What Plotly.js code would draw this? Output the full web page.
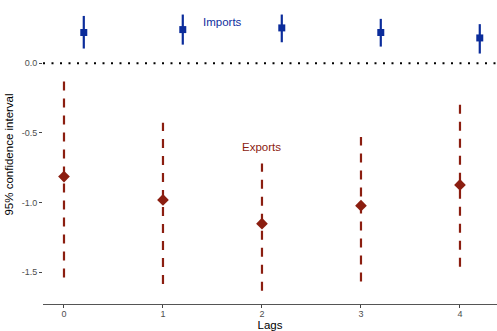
<!DOCTYPE html>
<html>
<head>
<meta charset="utf-8">
<script src="https://cdn.plot.ly/plotly-3.0.1.min.js"></script>
<style>html,body{margin:0;padding:0;background:#fff;}#chart{width:497px;height:331px;}</style>
</head>
<body>
<div id="chart"></div>
<script>
var lags = [0, 1, 2, 3, 4];
var importsEst = [0.221, 0.242, 0.254, 0.221, 0.182];
var importsLo  = [0.106, 0.134, 0.151, 0.120, 0.070];
var importsHi  = [0.340, 0.350, 0.350, 0.319, 0.281];
var exportsEst = [-0.813, -0.981, -1.151, -1.022, -0.873];
var exportsLo  = [-1.537, -1.585, -1.633, -1.566, -1.460];
var exportsHi  = [-0.129, -0.427, -0.720, -0.530, -0.295];
var yTicks = [0, -0.5, -1, -1.5];
var yTickText = ['0.0', '-0.5', '-1.0', '-1.5'];
var importOffset = 0.2;

var blue = '#0B2C9B';
var red = '#8B1E10';

function segs(xs, lo, hi, off) {
  var x = [], y = [];
  for (var i = 0; i < xs.length; i++) {
    x.push(xs[i] + off, xs[i] + off, null);
    y.push(lo[i], hi[i], null);
  }
  return {x: x, y: y};
}
var impX = lags.map(function(l){ return l + importOffset; });
var es = segs(lags, exportsLo, exportsHi, 0);
var is = segs(lags, importsLo, importsHi, importOffset);

var traces = [
  {x: es.x, y: es.y, mode: 'lines', line: {color: red, width: 2.2, dash: '9px,8px'}, hoverinfo: 'skip', connectgaps: false},
  {x: lags, y: exportsEst, mode: 'markers', marker: {symbol: 'diamond', size: 9, color: red}},
  {x: is.x, y: is.y, mode: 'lines', line: {color: blue, width: 2.2}, hoverinfo: 'skip', connectgaps: false},
  {x: impX, y: importsEst, mode: 'markers', marker: {symbol: 'square', size: 7, color: blue}}
];

var layout = {
  width: 497, height: 331,
  margin: {l: 43, r: 0, t: 5, b: 27},
  paper_bgcolor: '#fff', plot_bgcolor: '#fff',
  showlegend: false,
  font: {family: 'Liberation Sans, Arial, sans-serif'},
  xaxis: {
    range: [-0.212, 4.374], tickvals: lags, ticktext: lags.map(String),
    showgrid: false, zeroline: false, showline: true, linecolor: '#555', linewidth: 1.3,
    ticks: 'outside', ticklen: 3, tickwidth: 1, tickcolor: '#444',
    ticklabelstandoff: -2,
    tickfont: {size: 9, color: '#4D4D4D'},
    title: {text: 'Lags', font: {size: 11.5, color: '#000'}, standoff: 0}
  },
  yaxis: {
    range: [-1.728, 0.4185], tickvals: yTicks, ticktext: yTickText,
    showgrid: false, zeroline: false, showline: false,
    ticks: 'outside', ticklen: 3, tickwidth: 1, tickcolor: '#444',
    tickfont: {size: 9, color: '#4D4D4D'},
    title: {text: '95% confidence interval', font: {size: 11.5, color: '#000'}, standoff: 5}
  },
  shapes: [
    {type: 'line', xref: 'paper', x0: 0, x1: 1, yref: 'y', y0: 0, y1: 0,
     line: {color: '#000', width: 2, dash: '2px,6.5px'}}
  ],
  annotations: [
    {x: 1.6, y: 0.297, xref: 'x', yref: 'y', text: 'Imports', showarrow: false,
     font: {size: 11.5, color: '#0F2FA0'}},
    {x: 2.0, y: -0.604, xref: 'x', yref: 'y', text: 'Exports', showarrow: false,
     font: {size: 11.5, color: '#8B2010'}}
  ]
};

Plotly.newPlot('chart', traces, layout, {displayModeBar: false, staticPlot: true});
</script>
</body>
</html>
